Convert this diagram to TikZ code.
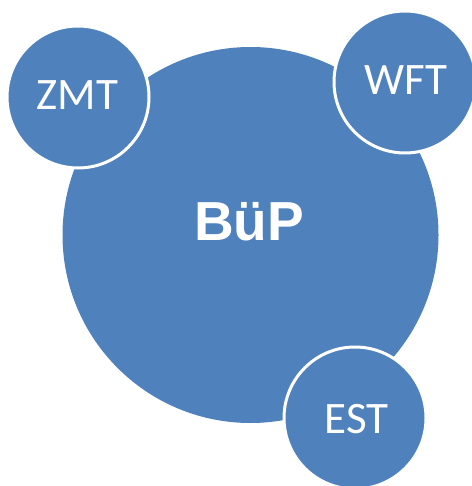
\documentclass[tikz,border=0pt]{standalone}
\usepackage{fontspec}
\setmainfont{Carlito}
\newfontfamily\boldsans{Liberation Sans}
\definecolor{officeblue}{HTML}{4F81BD}
\begin{document}
\begin{tikzpicture}[x=1pt,y=-1pt,
  bigcirc/.style={circle,fill=officeblue,minimum size=376pt,inner sep=0pt},
  smallcirc/.style={circle,fill=officeblue,draw=white,line width=3pt,minimum size=142pt,inner sep=0pt},
  lbl/.style={text=white,font=\fontsize{45}{50}\selectfont},
  biglbl/.style={text=white,font=\boldsans\bfseries\fontsize{55}{60}\selectfont}]
\path[use as bounding box] (0,0) rectangle (471,486);
\node[bigcirc] (bup) at (250.5,235) {};
\node[smallcirc] (zmt) at (78,97) {};
\node[smallcirc] (wft) at (405,82) {};
\node[smallcirc] (est) at (355,418) {};
\node[biglbl] (tbup) at (249,222) {BüP};
\node[lbl] (tzmt) at (77.5,95) {ZMT};
\node[lbl] (twft) at (406,80.5) {WFT};
\node[lbl] (test) at (356.5,419) {EST};
\end{tikzpicture}
\end{document}
